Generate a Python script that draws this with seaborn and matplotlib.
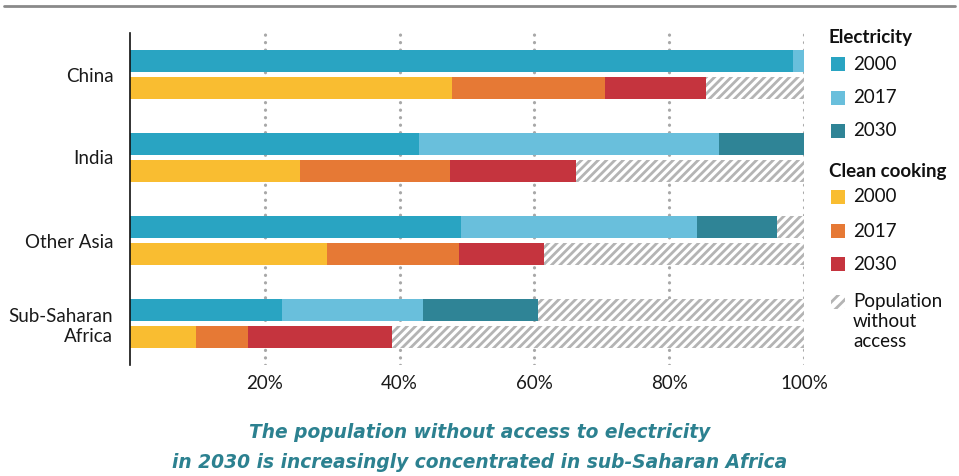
import matplotlib
matplotlib.use("Agg")
import matplotlib.pyplot as plt
from matplotlib.patches import Rectangle
from matplotlib.lines import Line2D
import seaborn as sns
import pandas as pd

regions = ["China", "India", "Other Asia", "Sub-Saharan\nAfrica"]
sectors = ["Electricity", "Clean cooking"]
years = ["2000", "2017", "2030"]
elec_2000 = [98.4, 42.9, 49.1, 22.6]
elec_2017 = [100.0, 87.4, 84.1, 43.5]
elec_2030 = [100.0, 100.0, 96.0, 60.5]
cook_2000 = [47.8, 25.2, 29.2, 9.8]
cook_2017 = [70.5, 47.5, 48.8, 17.5]
cook_2030 = [85.5, 66.2, 61.4, 38.9]
total = [100.0, 100.0, 100.0, 100.0]
xtick_vals = [20, 40, 60, 80, 100]
xtick_labels = ["20%", "40%", "60%", "80%", "100%"]

elec_colors = ["#29a4c2", "#69bfdc", "#2f8496"]
cook_colors = ["#f9bd31", "#e67935", "#c5343e"]
hatch_color = "#b4b4b4"
title_color = "#2c8190"
title_lines = ["The population without access to electricity",
               "in 2030 is increasingly concentrated in sub-Saharan Africa"]

sns.set_theme(style="white")
plt.rcParams["font.family"] = ["Lato", "DejaVu Sans"]
plt.rcParams["hatch.linewidth"] = 2.0

FS = 13.5
W, H = 959, 476
fig = plt.figure(figsize=(W / 100, H / 100), dpi=100)
ax = fig.add_axes([130 / W, 1 - 365 / H, (804 - 130) / W, (365 - 33) / H])

def frame(e_vals, c_vals):
    return pd.DataFrame({
        "region": regions * 2,
        "sector": [sectors[0]] * len(regions) + [sectors[1]] * len(regions),
        "value": list(e_vals) + list(c_vals),
    })

common = dict(y="region", x="value", hue="sector", hue_order=sectors, order=regions,
              orient="h", width=0.65, gap=0.15, errorbar=None, legend=False,
              saturation=1, linewidth=0, ax=ax, zorder=2)

# background: population without access (hatched)
n0 = len(ax.patches)
sns.barplot(data=frame(total, total), palette={sectors[0]: "white", sectors[1]: "white"}, **common)
for p in ax.patches[n0:]:
    p.set_hatch("////")
    p.set_edgecolor(hatch_color)
    p.set_linewidth(0)

layers = [(elec_2030, cook_2030, 2), (elec_2017, cook_2017, 1), (elec_2000, cook_2000, 0)]
for e_vals, c_vals, k in layers:
    sns.barplot(data=frame(e_vals, c_vals),
                palette={sectors[0]: elec_colors[k], sectors[1]: cook_colors[k]}, **common)

ax.set_xlim(0, 100)
ax.set_ylim(3.5, -0.5)
ax.set_xticks(xtick_vals)
ax.set_xticklabels(xtick_labels, fontsize=FS, color="#1a1a1a")
ax.tick_params(axis="y", labelsize=FS, colors="#1a1a1a", length=0, pad=12)
ax.tick_params(axis="x", length=0, pad=7)
for lab in ax.get_yticklabels():
    lab.set_horizontalalignment("right")
    lab.set_multialignment("right")
    lab.set_linespacing(1.2)
ax.set_xlabel("")
ax.set_ylabel("")
for s in ["top", "right", "bottom"]:
    ax.spines[s].set_visible(False)
ax.spines["left"].set_color("#111111")
ax.spines["left"].set_linewidth(1.2)
ax.spines["left"].set_zorder(5)
for xv in xtick_vals:
    ax.axvline(xv, color="#a8a8a8", linewidth=2.3, linestyle=(0, (0.05, 2.3)),
               dash_capstyle="round", zorder=1)

# top rule
fig.add_artist(Line2D([4 / W, 955 / W], [1 - 6 / H, 1 - 6 / H], color="#8a8a8a", linewidth=2))

def fx(x):
    return x / W

def fy(y):
    return 1 - y / H

# legend
fig.text(fx(829), fy(38), "Electricity", fontsize=FS, fontweight="bold", va="center", color="#111111")
fig.text(fx(829), fy(172), "Clean cooking", fontsize=FS, fontweight="bold", va="center", color="#111111")
ys_e = [64, 98, 131]
ys_c = [197, 231, 264]
for i, yr in enumerate(years):
    for ypx, col in ((ys_e[i], elec_colors[i]), (ys_c[i], cook_colors[i])):
        fig.add_artist(Rectangle((fx(831), fy(ypx + 7)), 14 / W, 14 / H, transform=fig.transFigure,
                                 facecolor=col, edgecolor="none"))
        fig.text(fx(853), fy(ypx), yr, fontsize=FS, va="center", color="#111111")
fig.add_artist(Rectangle((fx(831), fy(309)), 14 / W, 14 / H, transform=fig.transFigure,
                         facecolor="white", edgecolor=hatch_color, hatch="///", linewidth=0))
fig.text(fx(853), fy(293), "Population\nwithout\naccess", fontsize=FS, va="top",
         color="#111111", linespacing=1.22)

# caption
for txt, ypx in zip(title_lines, (432, 462)):
    fig.text(0.5, fy(ypx), txt, ha="center", va="center", fontsize=13.4,
             fontweight="bold", fontstyle="italic", color=title_color,
             family=["DejaVu Sans"])

fig.savefig("out.png", dpi=100)
